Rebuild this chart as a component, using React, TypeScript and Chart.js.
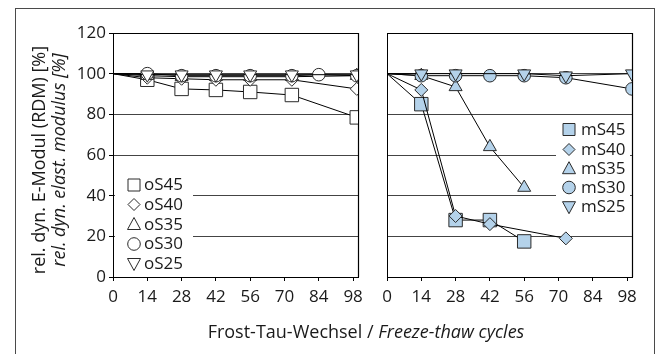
import React, { useEffect, useRef } from 'react';
import { Chart, registerables } from 'chart.js';

Chart.register(...registerables);

const W = 664;
const H = 354;
const FONT = "'Open Sans', 'DejaVu Sans', sans-serif";
const TEXT = '#1a1a1a';
const BLUE = '#b4d2ea';

// ---- data ----
const xTicks = [0, 14, 28, 42, 56, 70, 84, 98];

const oNames = ['oS45', 'oS40', 'oS35', 'oS30', 'oS25'];
const xOS45 = [0, 14, 28, 42, 56, 73, 99.5];
const oS45 = [100, 97, 92.5, 92, 91, 89.5, 78.5];
const xOS40 = [0, 14, 28, 42, 56, 73, 99.5];
const oS40 = [100, 98, 97.5, 97, 97, 97, 92.5];
const xOS35 = [0, 14, 28, 42, 56, 73, 99.5];
const oS35 = [100, 99, 98.5, 98.5, 98.5, 98.5, 99];
const xOS30 = [0, 14, 28, 42, 56, 73, 84, 99.5];
const oS30 = [100, 100, 99, 99, 99, 99, 99.5, 99];
const xOS25 = [0, 14, 28, 42, 56, 73, 99.5];
const oS25 = [100, 99.5, 99.5, 99.5, 99.5, 99.5, 99.5];

const mNames = ['mS45', 'mS40', 'mS35', 'mS30', 'mS25'];
const xMS45 = [0, 14, 28, 42, 56];
const mS45 = [100, 85, 28, 28, 17.5];
const xMS40 = [0, 14, 28, 42, 73];
const mS40 = [100, 92, 30, 26, 19];
const xMS35 = [0, 14, 28, 42, 56];
const mS35 = [100, 99, 93.5, 64, 44];
const xMS30 = [0, 14, 28, 42, 56, 73, 100];
const mS30 = [100, 99, 99, 99, 99, 98, 92.5];
const xMS25 = [0, 14, 28, 56, 73, 100];
const mS25 = [100, 100, 100, 100, 99, 100];

const yTitle1 = 'rel. dyn. E-Modul (RDM) [%]';
const yTitle2 = 'rel. dyn. elast. modulus [%]';
const xTitleA = 'Frost-Tau-Wechsel / ';
const xTitleB = 'Freeze-thaw cycles';

// marker styles in series order 45,40,35,30,25
const styles = [
  { ps: 'rect', r: 9.5, rot: 0 },
  { ps: 'rectRot', r: 6.5, rot: 0 },
  { ps: 'triangle', r: 7.5, rot: 0 },
  { ps: 'circle', r: 6.3, rot: 0 },
  { ps: 'triangle', r: 7.5, rot: 180 },
];

function pts(xs: number[], ys: number[]) {
  return xs.map((x, i) => ({ x, y: ys[i] }));
}

function makeDataset(label: string, xs: number[], ys: number[], idx: number, fill: string) {
  const s = styles[idx];
  return {
    label,
    data: pts(xs, ys),
    borderColor: '#000',
    borderWidth: 1,
    backgroundColor: fill,
    pointBackgroundColor: fill,
    pointBorderColor: '#2a2a2a',
    pointBorderWidth: 1,
    pointStyle: s.ps,
    pointRotation: s.rot,
    pointRadius: (c: any) => (c.dataIndex === 0 ? 0 : s.r),
    pointHoverRadius: (c: any) => (c.dataIndex === 0 ? 0 : s.r),
    tension: 0,
    fill: false,
    order: 4 - idx,
  };
}

function drawMarker(ctx: CanvasRenderingContext2D, kind: number, x: number, y: number, fill: string) {
  ctx.save();
  ctx.fillStyle = fill;
  ctx.strokeStyle = '#2a2a2a';
  ctx.lineWidth = 1;
  ctx.beginPath();
  if (kind === 0) {
    ctx.rect(x - 6, y - 6, 12, 12);
  } else if (kind === 1) {
    ctx.moveTo(x, y - 6);
    ctx.lineTo(x + 6, y);
    ctx.lineTo(x, y + 6);
    ctx.lineTo(x - 6, y);
    ctx.closePath();
  } else if (kind === 2) {
    ctx.moveTo(x, y - 7);
    ctx.lineTo(x + 6.5, y + 5);
    ctx.lineTo(x - 6.5, y + 5);
    ctx.closePath();
  } else if (kind === 3) {
    ctx.arc(x, y, 6.3, 0, Math.PI * 2);
  } else {
    ctx.moveTo(x, y + 7);
    ctx.lineTo(x + 6.5, y - 5);
    ctx.lineTo(x - 6.5, y - 5);
    ctx.closePath();
  }
  ctx.fill();
  ctx.stroke();
  ctx.restore();
}

function makeLegendPlugin(id: string, names: string[], fill: string, box: number[], mx: number, tx: number, ys: number[]) {
  return {
    id,
    afterDatasetsDraw(chart: any) {
      const ctx = chart.ctx as CanvasRenderingContext2D;
      ctx.save();
      ctx.fillStyle = '#fff';
      ctx.fillRect(box[0], box[1], box[2], box[3]);
      names.forEach((n, i) => {
        drawMarker(ctx, i, mx, ys[i], fill);
        ctx.fillStyle = TEXT;
        ctx.font = `17px ${FONT}`;
        ctx.textAlign = 'left';
        ctx.textBaseline = 'middle';
        ctx.fillText(n, tx, ys[i] + 0.5);
      });
      ctx.restore();
    },
  };
}

const framePlugin = {
  id: 'plotFrame',
  beforeDatasetsDraw(chart: any) {
    const { left, top, right, bottom } = chart.chartArea;
    const ctx = chart.ctx as CanvasRenderingContext2D;
    ctx.save();
    ctx.strokeStyle = '#000';
    ctx.lineWidth = 1.2;
    ctx.beginPath();
    ctx.moveTo(left, Math.round(top) + 0.5);
    ctx.lineTo(right, Math.round(top) + 0.5);
    ctx.moveTo(Math.round(right) + 0.5, top);
    ctx.lineTo(Math.round(right) + 0.5, bottom);
    ctx.stroke();
    ctx.restore();
  },
};

const titlesPlugin = {
  id: 'titles',
  afterDraw(chart: any) {
    const ctx = chart.ctx as CanvasRenderingContext2D;
    ctx.save();
    ctx.fillStyle = TEXT;
    ctx.textAlign = 'center';
    ctx.textBaseline = 'middle';
    ctx.save();
    ctx.translate(40, 160);
    ctx.rotate(-Math.PI / 2);
    ctx.font = `18px ${FONT}`;
    ctx.fillText(yTitle1, 0, 0);
    ctx.restore();
    ctx.save();
    ctx.translate(60, 160);
    ctx.rotate(-Math.PI / 2);
    ctx.font = `italic 18px ${FONT}`;
    ctx.fillText(yTitle2, 0, 0);
    ctx.restore();
    // x title
    ctx.textAlign = 'left';
    ctx.font = `18px ${FONT}`;
    const wa = ctx.measureText(xTitleA).width;
    ctx.font = `italic 18px ${FONT}`;
    const wb = ctx.measureText(xTitleB).width;
    const x0 = 366 - (wa + wb) / 2;
    ctx.font = `18px ${FONT}`;
    ctx.fillText(xTitleA, x0, 333);
    ctx.font = `italic 18px ${FONT}`;
    ctx.fillText(xTitleB, x0 + wa, 333);
    ctx.restore();
  },
};

function scales(showY: boolean, yWidth: number) {
  return {
    x: {
      type: 'linear',
      min: 0,
      max: 100,
      afterBuildTicks: (axis: any) => {
        axis.ticks = xTicks.map((v) => ({ value: v }));
      },
      afterFit: (s: any) => {
        s.height = 77;
        s.paddingLeft = 0;
        s.paddingRight = 0;
      },
      grid: { display: true, drawOnChartArea: false, drawTicks: true, tickLength: 4, tickColor: '#000', tickWidth: 1 },
      border: { display: true, color: '#000', width: 1 },
      ticks: { font: { family: FONT, size: 17 }, color: TEXT, padding: 6, maxRotation: 0, autoSkip: false },
    },
    y: {
      type: 'linear',
      min: 0,
      max: 120,
      afterFit: (s: any) => {
        s.width = yWidth;
        s.paddingTop = 0;
        s.paddingBottom = 0;
      },
      grid: { display: true, color: '#444', lineWidth: 1, drawTicks: showY, tickLength: 4, tickColor: '#000' },
      border: { display: true, color: '#000', width: 1 },
      ticks: { display: showY, stepSize: 20, font: { family: FONT, size: 17 }, color: TEXT, padding: 3 },
    },
  };
}

export default function App() {
  const refA = useRef<HTMLCanvasElement | null>(null);
  const refB = useRef<HTMLCanvasElement | null>(null);

  useEffect(() => {
    document.body.style.margin = '0';
    const common = {
      responsive: false,
      animation: false,
      events: [] as any[],
      plugins: { legend: { display: false }, tooltip: { enabled: false } },
    };
    const chartA = new Chart(refA.current as HTMLCanvasElement, {
      type: 'line',
      data: {
        datasets: [
          makeDataset(oNames[0], xOS45, oS45, 0, '#fff'),
          makeDataset(oNames[1], xOS40, oS40, 1, '#fff'),
          makeDataset(oNames[2], xOS35, oS35, 2, '#fff'),
          makeDataset(oNames[3], xOS30, oS30, 3, '#fff'),
          makeDataset(oNames[4], xOS25, oS25, 4, '#fff'),
        ] as any,
      },
      options: {
        ...common,
        layout: { padding: { left: 0, top: 33, right: W - 358, bottom: 0 } },
        scales: scales(true, 113) as any,
      } as any,
      plugins: [
        framePlugin,
        titlesPlugin,
        makeLegendPlugin('legA', oNames, '#fff', [115, 173, 78, 100], 134, 144, [185, 204.5, 224.5, 244, 263.5]),
      ],
    });
    const chartB = new Chart(refB.current as HTMLCanvasElement, {
      type: 'line',
      data: {
        datasets: [
          makeDataset(mNames[0], xMS45, mS45, 0, BLUE),
          makeDataset(mNames[1], xMS40, mS40, 1, BLUE),
          makeDataset(mNames[2], xMS35, mS35, 2, BLUE),
          makeDataset(mNames[3], xMS30, mS30, 3, BLUE),
          makeDataset(mNames[4], xMS25, mS25, 4, BLUE),
        ] as any,
      },
      options: {
        ...common,
        layout: { padding: { left: 0, top: 33, right: W - 632, bottom: 0 } },
        scales: scales(false, 387) as any,
      } as any,
      plugins: [
        framePlugin,
        makeLegendPlugin('legB', mNames, BLUE, [556, 118, 74, 99], 569, 581, [129.5, 149.5, 168.7, 187.5, 206.7]),
      ],
    });
    return () => {
      chartA.destroy();
      chartB.destroy();
    };
  }, []);

  return (
    <div style={{ position: 'relative', width: W, height: H, overflow: 'hidden', background: '#fff' }}>
      <div
        style={{
          position: 'absolute',
          left: 15,
          top: 8,
          width: 640,
          height: 400,
          border: '1.5px solid #4a4a4a',
          boxSizing: 'border-box',
        }}
      />
      <canvas ref={refA} width={W} height={H} style={{ position: 'absolute', left: 0, top: 0 }} />
      <canvas ref={refB} width={W} height={H} style={{ position: 'absolute', left: 0, top: 0 }} />
    </div>
  );
}
